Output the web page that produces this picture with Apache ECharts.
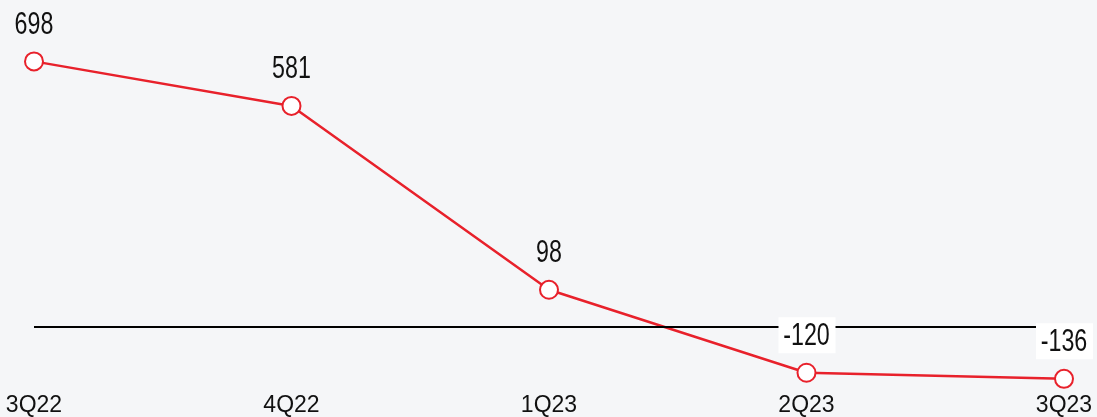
<!DOCTYPE html>
<html>
<head>
<meta charset="utf-8">
<style>
  html, body { margin: 0; padding: 0; background: #f5f6f8; }
  #chart { width: 1097px; height: 417px; }
</style>
<script src="https://cdn.jsdelivr.net/npm/echarts@6/dist/echarts.min.js"></script>
</head>
<body>
<div id="chart"></div>
<script>
// Quarterly figures
const categories = ['3Q22', '4Q22', '1Q23', '2Q23', '3Q23'];
const values = [698, 581, 98, -120, -136];

const RED = '#e8212b';
const FONT = "'Liberation Sans', Arial, sans-serif";

const chart = echarts.init(document.getElementById('chart'), null, { renderer: 'canvas' });

// Value labels: condensed numbers above each point; negatives get a white plate
function renderValueLabel(params, api) {
  const idx = api.value(0);
  const v = api.value(1);
  const p = api.coord([idx, v]);
  const cy = p[1] - 36;
  const children = [];
  if (v < 0) {
    children.push({
      type: 'rect',
      shape: { x: p[0] - 28, y: cy - 19.5, width: 57, height: 36 },
      style: { fill: '#ffffff' }
    });
  }
  children.push({
    type: 'text',
    x: p[0],
    y: cy,
    scaleX: 0.75,
    style: {
      text: String(v),
      font: '31px ' + FONT,
      fill: '#111111',
      align: 'center',
      verticalAlign: 'middle'
    }
  });
  return { type: 'group', children };
}

chart.setOption({
  backgroundColor: '#f5f6f8',
  animation: false,
  grid: { left: 34, right: 33, top: 53, bottom: 29 },
  xAxis: {
    type: 'category',
    data: categories,
    boundaryGap: false,
    axisLine: { show: false, onZero: false },
    axisTick: { show: false },
    splitLine: { show: false },
    axisLabel: { color: '#111', fontSize: 23, fontFamily: FONT, margin: 6 }
  },
  yAxis: {
    type: 'value',
    min: -160,
    max: 720,
    show: false,
    splitLine: { show: false }
  },
  series: [{
    type: 'line',
    data: values,
    symbol: 'circle',
    symbolSize: 18,
    showAllSymbol: true,
    lineStyle: { color: RED, width: 2.5 },
    itemStyle: { color: '#ffffff', borderColor: RED, borderWidth: 2 },
    label: { show: false },
    markLine: {
      silent: true,
      symbol: 'none',
      label: { show: false },
      lineStyle: { color: '#000', width: 2, type: 'solid' },
      data: [{ yAxis: 0 }]
    },
    z: 3
  }, {
    type: 'custom',
    data: values.map((v, i) => [i, v]),
    encode: { x: 0, y: 1 },
    renderItem: renderValueLabel,
    silent: true,
    z: 5
  }]
});
</script>
</body>
</html>
